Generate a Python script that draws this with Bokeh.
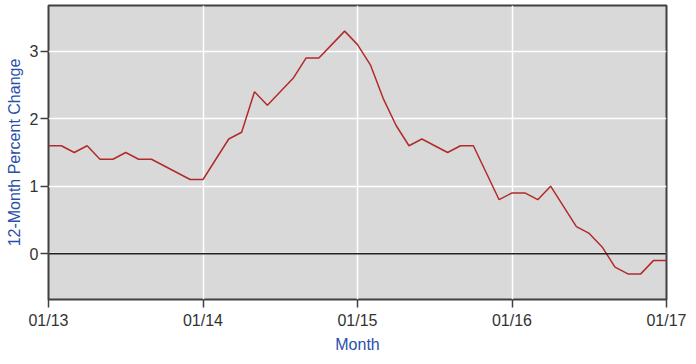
from bokeh.plotting import figure
from bokeh.models import FixedTicker, Span, Range1d
from bokeh.embed import file_html
from bokeh.resources import INLINE

# Monthly index: 0 = Jan 2013 ... 48 = Jan 2017
months = list(range(49))
values = [
    1.6, 1.6, 1.5, 1.6, 1.4, 1.4, 1.5, 1.4, 1.4, 1.3, 1.2, 1.1,
    1.1, 1.4, 1.7, 1.8, 2.4, 2.2, 2.4, 2.6, 2.9, 2.9, 3.1, 3.3,
    3.1, 2.8, 2.3, 1.9, 1.6, 1.7, 1.6, 1.5, 1.6, 1.6, 1.2, 0.8,
    0.9, 0.9, 0.8, 1.0, 0.7, 0.4, 0.3, 0.1, -0.2, -0.3, -0.3, -0.1,
    -0.1,
]
x_ticks = [0, 12, 24, 36, 48]
x_tick_labels = ["01/13", "01/14", "01/15", "01/16", "01/17"]
y_ticks = [0, 1, 2, 3]

p = figure(width=696, height=364, output_backend="svg", toolbar_location=None,
           x_range=Range1d(0, 48), y_range=Range1d(-0.68, 3.68))
p.min_border_left = 48
p.min_border_right = 30
p.min_border_top = 5
p.min_border_bottom = 65
p.background_fill_color = "#d9d9d9"
p.border_fill_color = "white"
p.outline_line_color = "#404040"
p.outline_line_width = 2

p.xaxis.ticker = FixedTicker(ticks=x_ticks)
p.xaxis.major_label_overrides = {t: l for t, l in zip(x_ticks, x_tick_labels)}
p.yaxis.ticker = FixedTicker(ticks=y_ticks)
p.xaxis.minor_tick_line_color = None
p.yaxis.minor_tick_line_color = None
for ax in (p.xaxis, p.yaxis):
    ax.axis_line_color = None
    ax.major_tick_line_color = "#404040"
    ax.major_tick_line_width = 1.5
    ax.major_tick_out = 8
    ax.major_tick_in = 0
    ax.major_label_text_font = "Liberation Sans"
    ax.major_label_text_font_size = "16px"
    ax.major_label_text_color = "#333333"
    ax.axis_label_text_font = "Liberation Sans"
    ax.axis_label_text_font_size = "16px"
    ax.axis_label_text_font_style = "normal"
    ax.axis_label_text_color = "#2a4fa8"
p.xaxis.axis_label = "Month"
p.yaxis.axis_label = "12-Month Percent Change"
p.xaxis.major_label_standoff = 4
p.yaxis.major_label_standoff = 2
p.xaxis.axis_label_standoff = 4
p.yaxis.axis_label_standoff = 4

p.xgrid.ticker = FixedTicker(ticks=x_ticks)
p.ygrid.ticker = FixedTicker(ticks=y_ticks)
p.grid.grid_line_color = "white"
p.grid.grid_line_width = 1.5

p.add_layout(Span(location=0, dimension="width", line_color="#222222", line_width=1.5))
p.line(months, values, line_color="#b22b2b", line_width=1.5)

open("out.html", "w").write(file_html(p, INLINE))
